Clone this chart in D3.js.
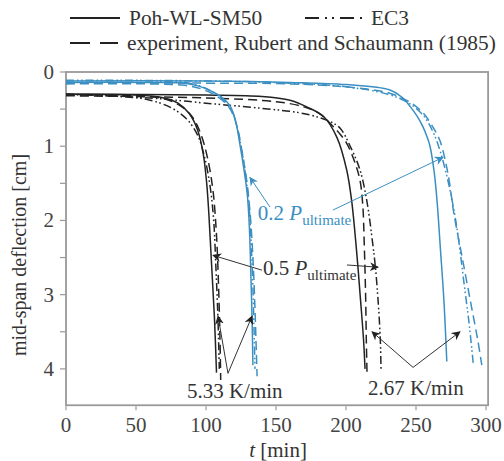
<!DOCTYPE html>
<html>
<head>
<meta charset="utf-8">
<script src="https://cdn.jsdelivr.net/npm/d3@7"></script>
<style>
  body { margin: 0; background: #fff; }
  svg { display: block; font-family: "Liberation Serif", "Times New Roman", serif; }
</style>
</head>
<body>
<div id="chart"></div>
<script>
// curves: [t (min), mid-span deflection (cm)]
// 0.5 P_ultimate, 5.33 K/min
var b533Poh = [[0,0.30],[50,0.31],[70,0.35],[80,0.42],[88,0.56],[94,0.78],[98,1.1],[100.5,1.5],[102,1.9],[104,2.6],[106,3.3],[107.5,4.05]];
var b533EC3 = [[0,0.30],[40,0.33],[60,0.38],[75,0.48],[86,0.63],[94,0.85],[99,1.15],[103,1.55],[105.5,2.0],[107,2.6],[108.5,3.3],[109.5,4.0]];
var b533Exp = [[0,0.31],[50,0.32],[70,0.36],[82,0.46],[90,0.6],[96,0.82],[101,1.15],[105,1.6],[107.5,2.2],[109,2.9],[110,3.6],[110.5,4.15]];
// 0.2 P_ultimate, 5.33 K/min
var u533Poh = [[0,0.14],[60,0.14],[85,0.15],[95,0.19],[105,0.27],[112,0.35],[117,0.45],[121,0.65],[124,0.95],[127,1.3],[129.5,1.65],[131,2.1],[132,2.7],[133,3.4],[133.5,3.95]];
var u533EC3 = [[0,0.12],[60,0.12],[85,0.14],[96,0.19],[106,0.28],[113,0.38],[118,0.5],[122,0.72],[125,1.0],[128,1.35],[130.5,1.75],[132,2.2],[133.5,2.9],[134.5,3.6],[135,4.0]];
var u533Exp = [[0,0.16],[60,0.16],[85,0.18],[97,0.23],[107,0.32],[114,0.42],[119,0.56],[123,0.8],[126,1.1],[129,1.45],[131.5,1.9],[133.5,2.5],[135,3.2],[136,3.8],[136.5,4.1]];
// 0.5 P_ultimate, 2.67 K/min
var b267Poh = [[0,0.30],[100,0.31],[140,0.33],[160,0.38],[172,0.47],[184,0.6],[193.5,0.88],[200.5,1.32],[204,1.73],[207.5,2.4],[210.5,3.1],[212.5,3.6],[213.6,4.0]];
var b267EC3 = [[0,0.30],[60,0.35],[100,0.42],[140,0.49],[167,0.55],[182,0.62],[190,0.68],[196,0.76],[203,1.0],[210,1.32],[215,1.75],[219,2.3],[221,2.63],[223,3.1],[224.5,3.6],[225,4.0]];
var b267Exp = [[0,0.32],[100,0.35],[150,0.40],[170,0.47],[181,0.56],[188.6,0.69],[195,0.82],[200.5,0.96],[206,1.2],[210,1.46],[212,1.8],[213,2.3],[214,3.0],[214.5,3.6],[215,4.05]];
// 0.2 P_ultimate, 2.67 K/min
var u267Poh = [[0,0.12],[100,0.12],[160,0.14],[200,0.17],[231,0.24],[240,0.34],[246,0.47],[251,0.6],[255,0.74],[258,0.88],[260,1.0],[263,1.35],[265,1.73],[267.5,2.4],[270,3.1],[272,3.9]];
var u267EC3 = [[0,0.11],[100,0.12],[160,0.15],[200,0.2],[230,0.3],[245,0.42],[255,0.58],[262,0.8],[267,1.05],[272,1.4],[276,1.75],[280,2.2],[284,2.8],[288,3.4],[291,3.95]];
var u267Exp = [[0,0.15],[100,0.15],[160,0.16],[200,0.2],[230,0.28],[245,0.4],[255,0.55],[262,0.74],[267,0.92],[271,1.2],[274,1.5],[277,1.9],[283,2.5],[289,3.1],[294,3.6],[297,3.95]];

var xTicks = [0, 50, 100, 150, 200, 250, 300];
var yTicks = [0, 0.5, 1, 1.5, 2, 2.5, 3, 3.5, 4];
var yLabels = [0, 1, 2, 3, 4];

// annotation arrows: [from t, from d, to t, to d]
var arrows02 = [[145.7,1.82,131.4,1.42],[190.7,1.86,269.3,1.15]];
var arrows05 = [[140,2.67,105,2.47],[200.7,2.6,222.9,2.63]];
var arrows533 = [[115.7,4.06,108.6,3.29],[115.7,4.06,132.9,3.29]];
var arrows267 = [[247.9,3.98,218.6,3.5],[247.9,3.98,281.4,3.5]];

var W = 504, H = 461;
var blue = "#3b8fc2", black = "#222", grey = "#999", textCol = "#333";
var dashExp = "9,5", dashEC3 = "8,3,1.6,2.5,1.6,3";

var x = d3.scaleLinear().domain([0, 300]).range([66, 486]);
var y = d3.scaleLinear().domain([0, 4.5]).range([72, 406]);

var svg = d3.select("#chart").append("svg")
    .attr("width", W).attr("height", H);

var defs = svg.append("defs");
defs.append("clipPath").attr("id", "plotclip")
  .append("rect").attr("x", x(0)).attr("y", y(0))
  .attr("width", x(301.5) - x(0)).attr("height", y(4.49) - y(0));

function marker(id, col) {
  defs.append("marker").attr("id", id)
    .attr("viewBox", "0 0 10 10").attr("refX", 9).attr("refY", 5)
    .attr("markerWidth", 9).attr("markerHeight", 9)
    .attr("markerUnits", "userSpaceOnUse")
    .attr("orient", "auto")
    .append("path").attr("d", "M0,0 L10,5 L0,10 L3,5 Z").attr("fill", col);
}
marker("arrB", black);
marker("arrU", blue);

// axes frame
svg.append("rect")
  .attr("x", x(0)).attr("y", y(0))
  .attr("width", x(301.5) - x(0)).attr("height", y(4.49) - y(0))
  .attr("fill", "none").attr("stroke", grey).attr("stroke-width", 1.8);

// y ticks
svg.selectAll(".ytick").data(yTicks).enter().append("line")
  .attr("x1", x(0) - 6).attr("x2", x(0))
  .attr("y1", function(d) { return y(d); }).attr("y2", function(d) { return y(d); })
  .attr("stroke", grey).attr("stroke-width", 1.2);
svg.selectAll(".ylab").data(yLabels).enter().append("text")
  .attr("x", x(0) - 12).attr("y", function(d) { return y(d) + 7; })
  .attr("text-anchor", "end").attr("font-size", 21).attr("fill", "#444")
  .text(function(d) { return d; });

// x ticks
svg.selectAll(".xtick").data(xTicks).enter().append("line")
  .attr("x1", function(d) { return x(d); }).attr("x2", function(d) { return x(d); })
  .attr("y1", y(4.49) + 1).attr("y2", y(4.49) + 5)
  .attr("stroke", grey).attr("stroke-width", 1.2);
svg.selectAll(".xlab").data(xTicks).enter().append("text")
  .attr("x", function(d) { return x(d); }).attr("y", 432)
  .attr("text-anchor", "middle").attr("font-size", 21).attr("fill", "#444")
  .text(function(d) { return d; });

// axis titles
var xt = svg.append("text").attr("x", 278).attr("y", 457)
  .attr("text-anchor", "middle").attr("font-size", 21).attr("fill", textCol);
xt.append("tspan").attr("font-style", "italic").text("t");
xt.append("tspan").text(" [min]");

svg.append("text")
  .attr("transform", "translate(26,255) rotate(-90)")
  .attr("text-anchor", "middle").attr("font-size", 20).attr("fill", textCol)
  .text("mid-span deflection [cm]");

// curves
var lineV = d3.line().x(function(d) { return x(d[0]); }).y(function(d) { return y(d[1]); })
  .curve(d3.curveCatmullRom.alpha(0.5));

var curves = [
  [b533Poh, black, null], [b533EC3, black, dashEC3], [b533Exp, black, dashExp],
  [b267Poh, black, null], [b267EC3, black, dashEC3], [b267Exp, black, dashExp],
  [u533Poh, blue, null], [u533EC3, blue, dashEC3], [u533Exp, blue, dashExp],
  [u267Poh, blue, null], [u267EC3, blue, dashEC3], [u267Exp, blue, dashExp]
];
var cg = svg.append("g").attr("clip-path", "url(#plotclip)");
curves.forEach(function(c) {
  cg.append("path").attr("d", lineV(c[0]))
    .attr("fill", "none").attr("stroke", c[1]).attr("stroke-width", 1.5)
    .attr("stroke-dasharray", c[2]);
});

// annotations
function drawArrows(list, col, mk) {
  svg.selectAll(null).data(list).enter().append("line")
    .attr("x1", function(d) { return x(d[0]); }).attr("y1", function(d) { return y(d[1]); })
    .attr("x2", function(d) { return x(d[2]); }).attr("y2", function(d) { return y(d[3]); })
    .attr("stroke", col).attr("stroke-width", 1)
    .attr("marker-end", "url(#" + mk + ")");
}
drawArrows(arrows02, blue, "arrU");
drawArrows(arrows05, "#333", "arrB");
drawArrows(arrows533, "#333", "arrB");
drawArrows(arrows267, "#333", "arrB");

function pLabel(t, d, txt, col) {
  var g = svg.append("text").attr("x", x(t)).attr("y", y(d))
    .attr("font-size", 21).attr("fill", col);
  g.append("tspan").text(txt + " ");
  g.append("tspan").attr("font-style", "italic").text("P");
  g.append("tspan").attr("font-size", 15).attr("dy", 5).text("ultimate");
}
pLabel(137, 1.99, "0.2", blue);
pLabel(140.7, 2.74, "0.5", textCol);

svg.append("text").attr("x", x(86.4)).attr("y", 398)
  .attr("font-size", 21).attr("fill", textCol).text("5.33 K/min");
svg.append("text").attr("x", x(215.7)).attr("y", 395)
  .attr("font-size", 21).attr("fill", textCol).text("2.67 K/min");

// legend
var leg = svg.append("g");
function legItem(x1, x2, yy, dash, label) {
  leg.append("line").attr("x1", x1).attr("x2", x2).attr("y1", yy).attr("y2", yy)
    .attr("stroke", black).attr("stroke-width", 2).attr("stroke-dasharray", dash);
  leg.append("text").attr("x", x2 + 9).attr("y", yy + 7)
    .attr("font-size", 21.4).attr("fill", textCol).text(label);
}
legItem(70, 120, 18, null, "Poh-WL-SM50");
legItem(305, 362, 18, "14,6,2,5,2,6", "EC3");
legItem(70, 118, 43, "20,10", "experiment, Rubert and Schaumann (1985)");
</script>
</body>
</html>
